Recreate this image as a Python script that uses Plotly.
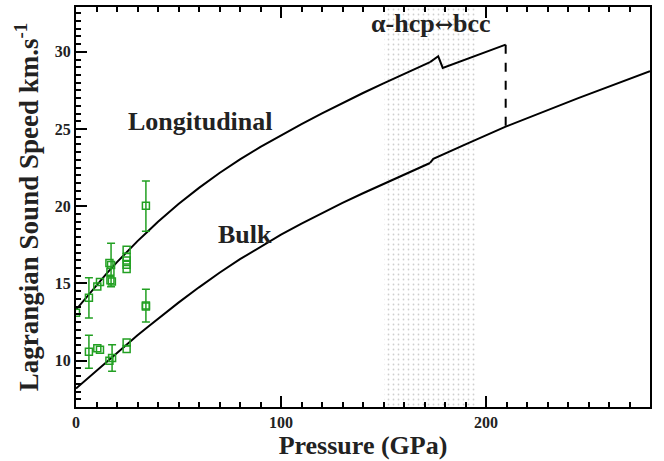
import plotly.graph_objects as go

# ---- data ----
# Longitudinal sound speed curve (smooth part, up to the first kink)
long_p = [0, 5, 10, 15, 20, 25, 30, 35, 40, 50, 60, 70, 80, 90, 100, 110, 120, 130, 140, 150, 160, 171, 172.7]
long_v = [13.3, 14.1, 14.9, 15.65, 16.38, 17.07, 17.74, 18.37, 18.99, 20.14, 21.19, 22.15, 23.03, 23.84,
          24.6, 25.32, 26.01, 26.68, 27.33, 27.96, 28.57, 29.22, 29.33]
# Longitudinal kink and bcc branch
long_kink_p = [172.7, 176.7, 178.9, 194, 209.6]
long_kink_v = [29.33, 29.71, 28.96, 29.7, 30.46]
# Dashed drop at end of longitudinal branch
drop_p = [209.6, 209.6]
drop_v = [30.46, 25.15]

# Bulk sound speed curve
bulk_p = [0, 5, 10, 15, 20, 25, 30, 35, 40, 50, 60, 70, 80, 90, 100, 110, 120, 130, 140, 150, 160, 172.7]
bulk_v = [8.2, 8.78, 9.37, 9.95, 10.52, 11.08, 11.64, 12.18, 12.72, 13.76, 14.75, 15.69, 16.57, 17.39,
          18.16, 18.88, 19.56, 20.21, 20.84, 21.45, 22.05, 22.8]
bulk2_p = [172.7, 174.3, 190, 209.6, 245, 280]
bulk2_v = [22.8, 23.07, 24.0, 25.15, 27.0, 28.75]

# Experimental points (longitudinal)
exp_l_p = [0, 10.4, 11.7, 16.3, 16.8, 16.8, 17.5, 24.7, 24.7, 24.7, 24.7, 24.7]
exp_l_v = [13.1, 14.8, 15.1, 16.32, 15.75, 15.2, 15.12, 17.18, 16.71, 16.49, 16.21, 15.94]
# Longitudinal points with error bars
err_l_p = [6.3, 17.1, 34.1]
err_l_v = [14.07, 16.2, 20.03]
err_l_up = [1.3, 1.4, 1.6]
err_l_dn = [1.3, 1.42, 1.65]

# Experimental points (bulk)
exp_b_p = [10.4, 11.7, 16.3, 24.7, 24.7, 34.1]
exp_b_v = [10.8, 10.71, 10.0, 11.18, 10.75, 13.5]
err_b_p = [6.3, 17.6, 34.1]
err_b_v = [10.58, 10.17, 13.58]
err_b_up = [1.07, 0.86, 1.05]
err_b_dn = [1.07, 0.85, 1.08]

# Shaded mixed-phase region
shade_start, shade_end = 150, 195

x_range = [0, 280]
y_range = [7, 32.9]

green = "#22a022"
black = "#000000"
font_family = "Liberation Serif, Times New Roman, serif"

fig = go.Figure()

# dotted shaded band
fig.add_trace(go.Bar(
    x=[(shade_start + shade_end) / 2], y=[y_range[1] + 10], base=[0],
    width=[shade_end - shade_start],
    marker=dict(color="white", line=dict(width=0),
                pattern=dict(shape=".", fgcolor="#a0a0a0", bgcolor="white",
                             size=5, solidity=0.1)),
    hoverinfo="skip", showlegend=False))

line_style = dict(color=black, width=2)
fig.add_trace(go.Scatter(x=long_p, y=long_v, mode="lines", line=line_style, showlegend=False))
fig.add_trace(go.Scatter(x=long_kink_p, y=long_kink_v, mode="lines", line=line_style, showlegend=False))
fig.add_trace(go.Scatter(x=drop_p, y=drop_v, mode="lines",
                         line=dict(color=black, width=2, dash="dash"), showlegend=False))
fig.add_trace(go.Scatter(x=bulk_p, y=bulk_v, mode="lines", line=line_style, showlegend=False))
fig.add_trace(go.Scatter(x=bulk2_p, y=bulk2_v, mode="lines", line=line_style, showlegend=False))

marker_style = dict(symbol="square-open", size=7, color=green, line=dict(width=1.5, color=green))
for px_, pv_ in [(exp_l_p, exp_l_v), (exp_b_p, exp_b_v)]:
    fig.add_trace(go.Scatter(x=px_, y=pv_, mode="markers", marker=marker_style, showlegend=False))
for px_, pv_, up, dn in [(err_l_p, err_l_v, err_l_up, err_l_dn), (err_b_p, err_b_v, err_b_up, err_b_dn)]:
    fig.add_trace(go.Scatter(
        x=px_, y=pv_, mode="markers", marker=marker_style, showlegend=False,
        error_y=dict(type="data", symmetric=False, array=up, arrayminus=dn,
                     color=green, thickness=1.5, width=4)))

label_font = dict(family=font_family, size=26, color="#222222", weight="bold")
fig.add_annotation(x=60.5, y=25.5, text="Longitudinal", showarrow=False,
                   font=label_font, xanchor="center", yanchor="middle")
fig.add_annotation(x=82.4, y=18.2, text="Bulk", showarrow=False,
                   font=label_font, xanchor="center", yanchor="middle")
fig.add_annotation(x=173, y=31.85,
                   text="α-hcp<span style=\"font-family:DejaVu Serif;font-size:22px\">↔</span>bcc",
                   showarrow=False, font=label_font, xanchor="center", yanchor="middle")

tick_font = dict(family=font_family, size=16, color="#222222", weight="bold")
title_font = dict(family=font_family, size=26, color="#222222", weight="bold")
ytitle_font = dict(family=font_family, size=27, color="#222222", weight="bold")

fig.update_xaxes(
    range=x_range, tickmode="array", tickvals=[0, 100, 200],
    ticks="inside", ticklen=11, tickwidth=2, tickcolor=black,
    showline=True, linewidth=2, linecolor=black, mirror="ticks",
    showgrid=False, zeroline=False, tickfont=tick_font,
    minor=dict(tickmode="linear", tick0=0, dtick=10, ticks="inside",
               ticklen=5, tickwidth=1.5, tickcolor=black, showgrid=False),
    title=dict(text="Pressure (GPa)", font=title_font, standoff=6))
fig.update_yaxes(
    range=y_range, tickmode="linear", tick0=0, dtick=5,
    ticks="inside", ticklen=11, tickwidth=2, tickcolor=black,
    showline=True, linewidth=2, linecolor=black, mirror=True,
    showgrid=False, zeroline=False, tickfont=tick_font,
    minor=dict(tickmode="linear", tick0=0, dtick=0.5, ticks="inside",
               ticklen=5, tickwidth=1.5, tickcolor=black, showgrid=False),
    title=dict(text="Lagrangian Sound Speed km.s<sup>-1</sup>", font=ytitle_font, standoff=8))

fig.update_layout(
    width=664, height=461,
    margin=dict(l=76, r=14, t=5, b=54),
    paper_bgcolor="white", plot_bgcolor="white",
    showlegend=False, bargap=0,
)

fig.write_html("out.html")
